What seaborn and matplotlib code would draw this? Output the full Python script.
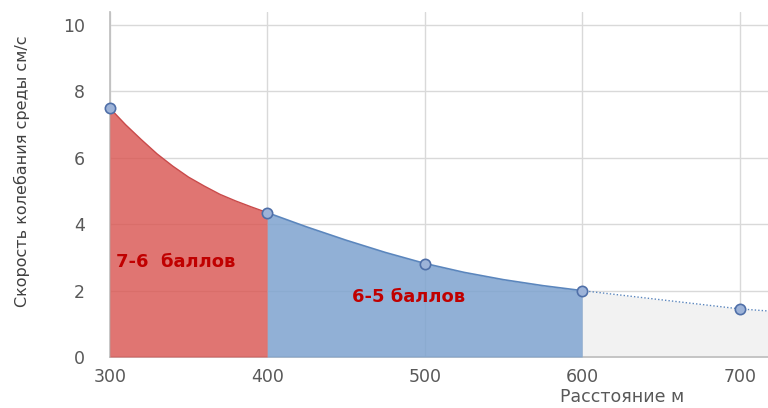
import numpy as np
import pandas as pd
import matplotlib
matplotlib.use("Agg")
import matplotlib.pyplot as plt
import seaborn as sns

# Точки замеров (маркеры)
distance = [300, 400, 500, 600, 700]
velocity = [7.5, 4.35, 2.8, 2.0, 1.45]

# Огибающая кривой
curve_red_x = [300, 310, 320, 330, 340, 350, 360, 370, 380, 390, 400]
curve_red_y = [7.5, 7.0, 6.55, 6.12, 5.75, 5.42, 5.15, 4.9, 4.7, 4.52, 4.35]
curve_blue_x = [400, 425, 450, 475, 500, 525, 550, 575, 600]
curve_blue_y = [4.35, 3.92, 3.52, 3.15, 2.82, 2.55, 2.33, 2.15, 2.0]
tail_x = [600, 700, 800]
tail_y = [2.0, 1.45, 1.1]

zone_labels = ["7-6  баллов", "6-5 баллов"]

sns.set_theme(style="whitegrid")
plt.rcParams["font.family"] = ["DejaVu Sans"]

fig = plt.figure(figsize=(7.68, 4.08), dpi=100)
ax = fig.add_axes([0.143, 0.125, 0.857, 0.846])

ax.set_axisbelow(True)
ax.grid(True, color="#d9d9d9", linewidth=1.0)

# зоны
ax.fill_between(tail_x, tail_y, color="#f2f2f2", zorder=1, linewidth=0)
ax.fill_between(curve_red_x, curve_red_y, color="#d9534f", alpha=0.8, zorder=3, linewidth=0)
ax.fill_between(curve_blue_x, curve_blue_y, color="#7ea3cf", alpha=0.85, zorder=3, linewidth=0)

df_red = pd.DataFrame({"x": curve_red_x, "y": curve_red_y})
df_blue = pd.DataFrame({"x": curve_blue_x, "y": curve_blue_y})
df_tail = pd.DataFrame({"x": tail_x, "y": tail_y})
sns.lineplot(data=df_red, x="x", y="y", ax=ax, color="#c94a4a", linewidth=1.0, zorder=4)
sns.lineplot(data=df_blue, x="x", y="y", ax=ax, color="#5b86bd", linewidth=1.2, zorder=4)
sns.lineplot(data=df_tail, x="x", y="y", ax=ax, color="#5b86bd", linewidth=1.0,
             linestyle=(0, (1, 1.5)), zorder=4)

df_pts = pd.DataFrame({"x": distance, "y": velocity})
sns.scatterplot(data=df_pts, x="x", y="y", ax=ax, s=55, color="#9db3d8",
                edgecolor="#4f6fa8", linewidth=1.2, zorder=5, clip_on=False)

ax.text(304, 2.85, zone_labels[0], color="#c00000", fontsize=13, fontweight="bold",
        ha="left", va="center", zorder=6)
ax.text(490, 1.8, zone_labels[1], color="#c00000", fontsize=13, fontweight="bold",
        ha="center", va="center", zorder=6)

ax.set_xlim(300, 718)
ax.set_ylim(0, 10.4)
ax.set_xticks(distance)
ax.set_yticks([0, 2, 4, 6, 8, 10])
ax.tick_params(axis="x", colors="#595959", labelsize=12.5, pad=8, length=0)
ax.tick_params(axis="y", colors="#595959", labelsize=12.5, pad=18, length=0)

for side in ["top", "right"]:
    ax.spines[side].set_visible(False)
ax.spines["left"].set_color("#bfbfbf")
ax.spines["bottom"].set_color("#bfbfbf")

ax.set_xlabel("")
ax.set_ylabel("")
fig.text(0.029, 0.58, "Скорость колебания среды см/с", rotation=90, ha="center", va="center",
         fontsize=11.5, color="#404040")
fig.text(0.81, 0.026, "Расстояние м", ha="center", va="center", fontsize=12.5,
         color="#595959")

fig.savefig("out.png", dpi=100)
